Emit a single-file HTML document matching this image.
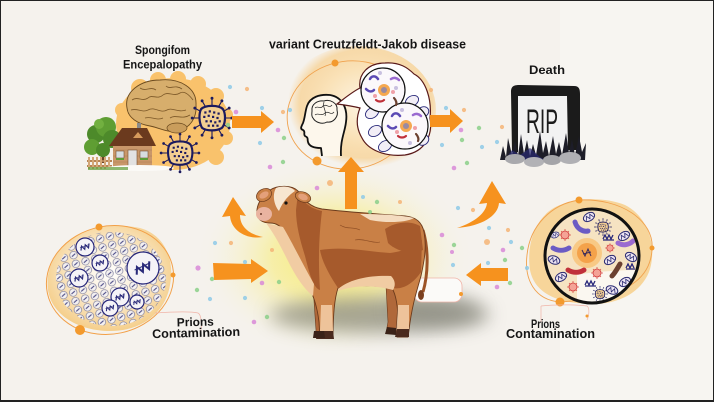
<!DOCTYPE html>
<html><head><meta charset="utf-8">
<style>
html,body{margin:0;padding:0;background:#f5f2ed;}
svg{display:block;}
text{font-family:"Liberation Sans",sans-serif;font-weight:bold;fill:#151515;}
</style></head><body>
<svg width="714" height="402" viewBox="0 0 714 402" xmlns="http://www.w3.org/2000/svg">
<defs>
 <radialGradient id="glow" cx="0.5" cy="0.5" r="0.5">
   <stop offset="0" stop-color="#f6ea72"/>
   <stop offset="0.45" stop-color="#f7ee9c" stop-opacity="0.85"/>
   <stop offset="1" stop-color="#f5f2ed" stop-opacity="0"/>
 </radialGradient>
 <radialGradient id="headglow" cx="0.55" cy="0.45" r="0.5">
   <stop offset="0" stop-color="#fdf4e4"/>
   <stop offset="0.55" stop-color="#fae2b8"/>
   <stop offset="0.85" stop-color="#f7d398" stop-opacity="0.8"/>
   <stop offset="1" stop-color="#f7d398" stop-opacity="0"/>
 </radialGradient>
 <radialGradient id="leftblob" cx="0.5" cy="0.45" r="0.55">
   <stop offset="0" stop-color="#ffffff"/>
   <stop offset="0.45" stop-color="#fbeed6"/>
   <stop offset="1" stop-color="#f5cf8c"/>
 </radialGradient>
 <filter id="blur8" x="-50%" y="-50%" width="200%" height="200%"><feGaussianBlur stdDeviation="9"/></filter>
 <filter id="blur1"><feGaussianBlur stdDeviation="0.7"/></filter>
 <pattern id="cells" width="10" height="9" patternUnits="userSpaceOnUse" patternTransform="rotate(-15)">
   <circle cx="5" cy="4.5" r="3.8" fill="#f4f1f1" stroke="#7a7a9a" stroke-width="0.7"/>
   <path d="M3,5.5 L7,3.5" stroke="#4a4a86" stroke-width="1"/>
 </pattern>
 <clipPath id="leftclip"><ellipse cx="111" cy="279" rx="55" ry="47"/></clipPath>
 <clipPath id="rclip"><circle cx="592" cy="256" r="46"/></clipPath>
 <g id="virus">
  <path d="M11,0L18,0M9.5,5.5L15.6,9M5.5,9.5L9,15.6M0,11L0,18M-5.5,9.5L-9,15.6M-9.5,5.5L-15.6,9M-11,0L-18,0M-9.5,-5.5L-15.6,-9M-5.5,-9.5L-9,-15.6M0,-11L0,-18M5.5,-9.5L9,-15.6M9.5,-5.5L15.6,-9" stroke="#1c1a5e" stroke-width="1"/>
  <g fill="#1c1a5e">
   <circle cx="18" cy="0" r="1.3"/><circle cx="15.6" cy="9" r="1.3"/><circle cx="9" cy="15.6" r="1.3"/><circle cx="0" cy="18" r="1.3"/><circle cx="-9" cy="15.6" r="1.3"/><circle cx="-15.6" cy="9" r="1.3"/><circle cx="-18" cy="0" r="1.3"/><circle cx="-15.6" cy="-9" r="1.3"/><circle cx="-9" cy="-15.6" r="1.3"/><circle cx="0" cy="-18" r="1.3"/><circle cx="9" cy="-15.6" r="1.3"/><circle cx="15.6" cy="-9" r="1.3"/>
  </g>
  <path d="M-10,-8 C-6,-12 6,-12 10,-8 C13,-3 12,6 9,9 C4,12 -5,12 -9,9 C-12,4 -12,-4 -10,-8 Z" fill="#f3cf92" stroke="#1c1a5e" stroke-width="2"/>
  <g fill="#1c1a5e">
   <rect x="-7" y="-6" width="2" height="2"/><rect x="-3" y="-7" width="2" height="2"/><rect x="1" y="-6" width="2" height="2"/><rect x="5" y="-5" width="2" height="2"/>
   <rect x="-8" y="-2" width="2" height="2"/><rect x="-4" y="-3" width="2" height="2"/><rect x="0" y="-2" width="2" height="2"/><rect x="4" y="-1" width="2" height="2"/>
   <rect x="-6" y="2" width="2" height="2"/><rect x="-2" y="2" width="2" height="2"/><rect x="2" y="3" width="2" height="2"/><rect x="6" y="2" width="2" height="2"/>
   <rect x="-4" y="6" width="2" height="2"/><rect x="0" y="6" width="2" height="2"/><rect x="4" y="6" width="2" height="2"/>
  </g>
 </g>
 <g id="mito">
  <ellipse cx="0" cy="0" rx="6" ry="4" fill="#ece4f2" stroke="#2a2a72" stroke-width="1"/>
  <path d="M-4,2 L-2,-2 L0,2 L2,-2 L4,2" fill="none" stroke="#2a2a72" stroke-width="0.8"/>
 </g>
 <g id="rv">
  <path d="M0,-6V6M-6,0H6M-4,-4L4,4M-4,4L4,-4" stroke="#d8504a" stroke-width="0.8"/>
  <circle r="4" fill="#f4a396" stroke="#d23a3a" stroke-width="0.8"/>
 </g>
 <g id="dna">
  <circle r="1" fill="none"/>
  <path d="M-5,2 L-3,-2 L-1,2 L1,-2 L3,2 L5,-2" fill="none" stroke="#2a2a7a" stroke-width="1.2"/>
  <path d="M-5,-1 L5,-1" stroke="#2a2a7a" stroke-width="0.6"/>
 </g>
</defs>

<rect x="0" y="0" width="714" height="402" fill="#f5f2ed"/>
<rect x="560" y="0" width="154" height="402" fill="#f8f6f3" opacity="0.6"/>

<!-- glow + shadow -->
<ellipse cx="335" cy="258" rx="140" ry="100" fill="url(#glow)"/>
<ellipse cx="380" cy="315" rx="110" ry="18" fill="#858579" opacity="0.7" filter="url(#blur8)"/>
<ellipse cx="435" cy="310" rx="45" ry="14" fill="#858579" opacity="0.55" filter="url(#blur8)"/>

<!-- ============ TOP LEFT GROUP ============ -->
<g>
 <ellipse cx="173" cy="124" rx="57" ry="46" fill="#f9c26c"/>
 <circle cx="140" cy="88" r="9" fill="#f9c26c"/><circle cx="158" cy="80" r="8" fill="#f9c26c"/>
 <circle cx="178" cy="79" r="8" fill="#f9c26c"/><circle cx="198" cy="84" r="8" fill="#f9c26c"/>
 <circle cx="216" cy="96" r="8" fill="#f9c26c"/><circle cx="226" cy="115" r="7" fill="#f9c26c"/>
 <circle cx="226" cy="138" r="7" fill="#f9c26c"/><circle cx="216" cy="157" r="8" fill="#f9c26c"/>
 <circle cx="122" cy="110" r="7" fill="#f9c26c"/>
 <!-- brain -->
 <path d="M127,108 C124,92 140,80 160,80 C180,78 197,88 196,105 C197,118 190,128 178,131 C168,133 160,128 150,126 C138,124 128,118 127,108 Z" fill="#d7ae6c" stroke="#6b4a1e" stroke-width="0.9"/>
 <ellipse cx="177" cy="128" rx="10" ry="5" fill="#c99d5c" stroke="#6b4a1e" stroke-width="0.7"/>
 <path d="M132,100 C138,96 142,102 148,98 C152,94 158,100 163,95 C168,91 174,97 180,93 C185,90 190,96 193,100 M131,110 C138,108 142,113 148,110 C155,106 160,114 167,110 C172,107 178,113 186,110 M140,88 C146,92 150,86 156,90 M166,86 C170,90 175,84 182,89 M145,118 C152,116 156,121 163,118 M170,118 C176,114 182,120 190,115" fill="none" stroke="#7a5626" stroke-width="0.8"/>
 <!-- tree -->
 <rect x="101" y="145" width="4" height="18" fill="#6b4526"/>
 <circle cx="96" cy="134" r="9" fill="#4d8a2a"/><circle cx="106" cy="127" r="10" fill="#5f9e33"/>
 <circle cx="112" cy="139" r="9" fill="#4d8a2a"/><circle cx="92" cy="147" r="8" fill="#5f9e33"/>
 <circle cx="103" cy="150" r="7" fill="#4d8a2a"/><circle cx="99" cy="124" r="5" fill="#72b040"/>
 <!-- fence -->
 <rect x="87" y="160" width="25" height="2" fill="#b78354"/><rect x="87" y="165" width="25" height="2" fill="#b78354"/>
 <g fill="#d3a676"><rect x="88" y="157" width="2" height="12"/><rect x="92" y="157" width="2" height="12"/><rect x="96" y="157" width="2" height="12"/><rect x="100" y="157" width="2" height="12"/><rect x="104" y="157" width="2" height="12"/><rect x="108" y="157" width="2" height="12"/></g>
 <!-- house -->
 <rect x="137" y="123" width="4" height="7" fill="#8a8a8a"/>
 <rect x="113" y="144" width="39" height="23" fill="#c9976a"/>
 <path d="M113,150 H152 M113,156 H152 M113,162 H152" stroke="#b07e54" stroke-width="0.5"/>
 <polygon points="109,146 122,128 147,128 156,146" fill="#6b3a1e"/>
 <polygon points="133,138 138,132 143,138" fill="#d79b5c"/>
 <rect x="116" y="151" width="8" height="7" fill="#d6dde0" stroke="#7a5030" stroke-width="0.6"/>
 <rect x="140" y="151" width="8" height="7" fill="#d6dde0" stroke="#7a5030" stroke-width="0.6"/>
 <rect x="128" y="150" width="9" height="16" fill="#e2e2e2" stroke="#7a5030" stroke-width="0.6"/>
 <rect x="116" y="158" width="8" height="2" fill="#5d9c36"/><rect x="140" y="158" width="8" height="2" fill="#5d9c36"/>
 <ellipse cx="140" cy="168" rx="34" ry="3" fill="#fbfaf7"/>
 <rect x="88" y="167" width="40" height="3" fill="#5c9a34" opacity="0.7"/>
 <use href="#virus" transform="translate(212,118) scale(1.1)"/>
 <use href="#virus" transform="translate(180,153) scale(1.05)"/>
</g>

<!-- ============ TOP CENTER GROUP ============ -->
<g>
 <ellipse cx="358" cy="110" rx="78" ry="64" fill="url(#headglow)"/>
 <ellipse cx="350" cy="115" rx="63" ry="54" fill="none" stroke="#f0a24e" stroke-width="0.9" transform="rotate(-8 350 115)"/>
 <circle cx="335" cy="63" r="3.5" fill="#f39a2e"/>
 <circle cx="317" cy="161" r="4.5" fill="#f39a2e"/>
 <!-- head -->
 <path d="M322,156 L321,148 C314,148 309,146 308,142 C307,139 309,138 305,136 C303,134 306,132 303,130 C300,129 301,127 303,123 C305,118 305,112 307,106 C310,97 320,94 330,95 C342,97 348,108 346,122 C345,132 340,140 341,156" fill="#fdf7ec" stroke="#111" stroke-width="1.8" stroke-linejoin="round"/>
 <path d="M312,111 C311,104 318,100 324,101 C330,99 338,103 337,110 C339,117 333,123 327,122 C322,125 315,122 313,118 C311,116 312,113 312,111 Z" fill="#fdf7ec" stroke="#222" stroke-width="1"/>
 <path d="M315,108 C318,105 320,110 323,106 C326,103 329,109 332,105 M315,115 C318,112 321,117 325,113 C328,110 331,116 334,112 M324,102 C322,108 327,110 325,116" fill="none" stroke="#222" stroke-width="0.7"/>
 <!-- bubble -->
 <path d="M337,104 C345,98 352,92 360,88 C358,74 368,63 385,63 C400,62 408,68 414,74 C426,80 432,100 430,118 C433,135 425,152 405,155 C385,157 368,150 362,138 C356,128 356,118 360,108 C352,106 345,105 337,104 Z" fill="#ffffff" stroke="#5a1a1a" stroke-width="1.2"/>
 <g fill="#f2eef6" stroke="#2a2a7a" stroke-width="0.9">
  <ellipse cx="372" cy="113" rx="7" ry="5" transform="rotate(-30 372 113)"/>
  <ellipse cx="375" cy="131" rx="7" ry="5" transform="rotate(-30 375 131)"/>
  <ellipse cx="385" cy="146" rx="7" ry="5" transform="rotate(-30 385 146)"/>
  <ellipse cx="412" cy="101" rx="7" ry="5" transform="rotate(-30 412 101)"/>
  <ellipse cx="423" cy="112" rx="6" ry="5" transform="rotate(-30 423 112)"/>
  <ellipse cx="423" cy="140" rx="6" ry="5" transform="rotate(-30 423 140)"/>
 </g>
 <circle cx="383" cy="90" r="22" fill="#fbf8fb" stroke="#111" stroke-width="1.2"/>
 <circle cx="405" cy="126" r="23" fill="#fbf8fb" stroke="#111" stroke-width="1.2"/>
 <g>
  <circle cx="384" cy="90" r="6" fill="#f5a850"/><circle cx="384" cy="90" r="3" fill="#9a8aa0"/>
  <path d="M370,79 C372,75 376,76 378,79" stroke="#5b4ab4" stroke-width="2.5" fill="none" stroke-linecap="round"/>
  <path d="M366,89 C369,92 372,92 374,90" stroke="#5b4ab4" stroke-width="2.5" fill="none" stroke-linecap="round"/>
  <path d="M391,79 C394,77 397,78 399,80" stroke="#9a6ad0" stroke-width="2.5" fill="none" stroke-linecap="round"/>
  <path d="M376,100 C378,102 382,102 384,100" stroke="#c0303a" stroke-width="2.2" fill="none" stroke-linecap="round"/>
  <path d="M394,98 C396,100 397,103 396,105" stroke="#6b4030" stroke-width="2.2" fill="none" stroke-linecap="round"/>
  <circle cx="375" cy="96" r="2" fill="#f0a0a8"/><circle cx="393" cy="92" r="2" fill="#f0a0a8"/><circle cx="380" cy="73" r="2" fill="#c8c0e0"/><circle cx="396" cy="88" r="2" fill="#c8c0e0"/>
  <circle cx="406" cy="126" r="6" fill="#f5a850"/><circle cx="406" cy="126" r="3" fill="#9a8aa0"/>
  <path d="M392,116 C394,112 398,113 400,116" stroke="#5b4ab4" stroke-width="2.5" fill="none" stroke-linecap="round"/>
  <path d="M388,126 C391,129 394,129 396,127" stroke="#5b4ab4" stroke-width="2.5" fill="none" stroke-linecap="round"/>
  <path d="M413,115 C416,113 419,114 421,116" stroke="#9a6ad0" stroke-width="2.5" fill="none" stroke-linecap="round"/>
  <path d="M398,136 C400,138 404,138 406,136" stroke="#c0303a" stroke-width="2.2" fill="none" stroke-linecap="round"/>
  <path d="M416,134 C418,136 419,139 418,141" stroke="#6b4030" stroke-width="2.2" fill="none" stroke-linecap="round"/>
  <circle cx="397" cy="132" r="2" fill="#f0a0a8"/><circle cx="415" cy="128" r="2" fill="#f0a0a8"/><circle cx="402" cy="110" r="2" fill="#c8c0e0"/><circle cx="410" cy="143" r="2" fill="#c8c0e0"/>
 </g>
</g>

<!-- ============ TOMBSTONE ============ -->
<g>
 <rect x="517" y="94" width="51" height="57" fill="#f2f2f2"/>
 <path d="M512,152 L511,92 C511,86 514,85 520,85 L574,86 C579,86 580,89 580,94 L580,150 L568,150 L567,96 L518,96 L518,152 Z" fill="#1b1b1b"/>
 <text x="526" y="133" font-size="34" textLength="32" lengthAdjust="spacingAndGlyphs" style="font-weight:normal;fill:#1b1b1b">RIP</text>
 <polygon points="500,160 503,146 506,157 508,138 512,155 515,141 518,156 521,134 524,154 527,140 530,156 533,144 536,155 540,131 543,153 546,141 549,156 553,136 556,154 559,142 562,155 566,133 569,153 572,139 575,155 579,136 582,152 586,143 585,160" fill="#1d1d28"/>
 <polygon points="505,160 512,150 520,155 530,148 540,157 545,160" fill="#2a2a70" opacity="0.7"/>
 <ellipse cx="515" cy="159" rx="10" ry="5" fill="#a9a9ad"/>
 <ellipse cx="534" cy="162" rx="10" ry="5" fill="#b2b2b6"/>
 <ellipse cx="552" cy="160" rx="9" ry="5" fill="#a4a4a8"/>
 <ellipse cx="570" cy="158" rx="11" ry="6" fill="#b0b0b4"/>
</g>

<!-- ============ LEFT CIRCLE ============ -->
<g>
 <path d="M60,250 C75,228 110,222 140,228 C165,235 175,260 170,285 C166,310 145,331 110,331 C80,331 52,316 48,290 C46,275 50,262 60,250 Z" fill="url(#leftblob)"/>
 <rect x="50" y="225" width="125" height="110" fill="url(#cells)" clip-path="url(#leftclip)"/>
 <g fill="#f5f3f7" stroke="#26267a" stroke-width="1.2">
  <circle cx="85" cy="247" r="9"/><circle cx="100" cy="263" r="8"/><circle cx="79" cy="278" r="9"/>
  <circle cx="143" cy="268" r="16"/><circle cx="120" cy="297" r="9"/><circle cx="137" cy="302" r="7"/><circle cx="110" cy="308" r="8"/>
 </g>
 <use href="#dna" transform="translate(85,247) rotate(-20)"/>
 <use href="#dna" transform="translate(100,263) rotate(-20) scale(0.9)"/>
 <use href="#dna" transform="translate(79,278) rotate(-20)"/>
 <use href="#dna" transform="translate(143,268) rotate(-25) scale(1.7)"/>
 <use href="#dna" transform="translate(120,297) rotate(-20)"/>
 <use href="#dna" transform="translate(137,302) rotate(-20) scale(0.8)"/>
 <use href="#dna" transform="translate(110,308) rotate(-20) scale(0.9)"/>
 <ellipse cx="110" cy="280" rx="64" ry="54" fill="none" stroke="#f2a048" stroke-width="1" transform="rotate(-12 110 280)"/>
 <circle cx="99" cy="227" r="3.5" fill="#f39a2e"/>
 <circle cx="80" cy="330" r="5" fill="#f39a2e"/>
 <circle cx="173" cy="275" r="2.5" fill="#f39a2e"/>
 <path d="M155,313 C170,312 190,311 198,313 C202,315 202,328 200,334" fill="none" stroke="#f0b4a8" stroke-width="0.7"/>
</g>

<!-- ============ RIGHT CIRCLE ============ -->
<g>
 <path d="M545,215 C560,198 600,195 625,205 C645,215 656,240 651,265 C646,290 620,305 590,304 C560,303 535,295 530,270 C527,250 532,228 545,215 Z" fill="#f7d59a"/>
 <path d="M579,200 C620,198 655,220 652,250 C650,280 625,298 560,302 C535,300 524,280 527,255 C530,225 552,204 579,200" fill="none" stroke="#f0a24e" stroke-width="0.9"/>
 <circle cx="592" cy="256" r="47" fill="#f6e3c2"/>
 <path d="M577,275 C590,272 620,270 640,270 L640,305 L577,305 Z" fill="#fbf7f0" clip-path="url(#rclip)"/>
 <circle cx="587" cy="253" r="15" fill="#f8c985"/>
 <circle cx="587" cy="253" r="10" fill="#f4a24a"/>
 <path d="M582,250 L585,256 L588,249 L591,256 M583,254 L591,252" stroke="#3a2a5a" stroke-width="1" fill="none"/>
 <path d="M575,222 C577,229 583,232 588,231" stroke="#6b5bc4" stroke-width="5" fill="none" stroke-linecap="round"/>
 <path d="M553,248 C558,251 564,251 569,248" stroke="#6b5bc4" stroke-width="5" fill="none" stroke-linecap="round"/>
 <path d="M618,243 C623,246 629,245 633,241" stroke="#9b6ad0" stroke-width="5" fill="none" stroke-linecap="round"/>
 <path d="M568,270 C573,273 579,273 584,270" stroke="#c0303a" stroke-width="5" fill="none" stroke-linecap="round"/>
 <path d="M620,264 C617,269 615,273 612,276" stroke="#6b4030" stroke-width="5" fill="none" stroke-linecap="round"/>
 <use href="#mito" transform="translate(589,217) rotate(-30)"/>
 <use href="#mito" transform="translate(624,236) rotate(-30)"/>
 <use href="#mito" transform="translate(631,257) rotate(30)"/>
 <use href="#mito" transform="translate(554,260) rotate(20)"/>
 <use href="#mito" transform="translate(610,260) rotate(-30)"/>
 <use href="#mito" transform="translate(561,277) rotate(-30)"/>
 <use href="#mito" transform="translate(625,282) rotate(-30)"/>
 <use href="#mito" transform="translate(612,290) rotate(20)"/>
 <use href="#mito" transform="translate(555,235) rotate(-20) scale(0.7)"/>
 <use href="#rv" transform="translate(565,235)"/>
 <use href="#rv" transform="translate(610,248) scale(0.8)"/>
 <use href="#rv" transform="translate(597,273)"/>
 <use href="#rv" transform="translate(573,287)"/>
 <use href="#virus" transform="translate(603,227) scale(0.45)"/>
 <use href="#virus" transform="translate(600,294) scale(0.4)"/>
 <g stroke="#26267a" stroke-width="1.3" fill="none">
  <path d="M603,239 L605,235 L607,239 L609,235 L611,239 L613,235 M603,240 H614"/>
  <path d="M626,268 L628,264 L630,268 L632,264 L634,268 M626,269 H635"/>
  <path d="M585,285 L587,281 L589,285 L591,281 L593,285 L595,281 M585,286 H596"/>
 </g>
 <circle cx="592" cy="256" r="47" fill="none" stroke="#111" stroke-width="3"/>
 <circle cx="579" cy="200" r="3.5" fill="#f39a2e"/>
 <circle cx="652" cy="248" r="2.5" fill="#f39a2e"/>
 <circle cx="560" cy="302" r="4.5" fill="#f39a2e"/>
 <path d="M541,306 C560,304 580,305 587,306 C590,308 589,316 587,320 M541,306 L541,322" fill="none" stroke="#f0b4a8" stroke-width="0.7"/>
 <circle cx="587" cy="316" r="1.5" fill="#f39a2e"/>
</g>

<!-- label box behind cow tail -->
<rect x="414" y="278" width="48" height="24" rx="8" fill="#fbfaf8" stroke="#f0b4a8" stroke-width="0.8"/>
<circle cx="461" cy="294" r="2" fill="#f39a2e"/>

<!-- ============ COW ============ -->
<g stroke-linejoin="round">
 <path d="M313,286 L316,330 L315,337 L325,337 L325,300 L322,286 Z" fill="#b0683a" stroke="#6b3a1c" stroke-width="0.6"/>
 <path d="M386,286 L388,322 L386,333 L396,334 L398,300 L396,286 Z" fill="#b0683a" stroke="#6b3a1c" stroke-width="0.6"/>
 <path d="M423,230 C429,250 428,275 423,292" fill="none" stroke="#9c5428" stroke-width="3"/>
 <ellipse cx="421" cy="295" rx="3" ry="5" fill="#7a3f1e"/>
 <path d="M257,214 C256,206 261,196 270,190 C278,185 292,185 298,191 C304,200 310,207 322,209 C345,212 380,214 405,216 C416,217 422,222 424,232 C427,248 424,262 421,276 C417,290 412,305 409,330 L408,337 L397,337 L398,322 C398,305 396,295 392,288 C375,285 355,285 338,288 C334,300 333,318 333,337 L320,337 L319,322 C317,305 313,295 308,285 C299,270 291,250 284,232 C281,226 276,223 270,223 C263,223 258,220 257,214 Z" fill="#c98046" stroke="#6b3a1c" stroke-width="0.9"/>
 <path d="M298,193 C305,205 313,209 322,211 C319,235 318,260 320,290 C313,288 309,272 305,256 C300,240 296,225 296,210 Z" fill="#a65a2c"/>
 <path d="M320,250 C345,246 370,252 390,253 C405,251 415,246 422,240 L421,272 C413,284 402,290 393,288 C375,284 352,285 338,288 C330,276 322,262 320,250 Z" fill="#a65a2c"/>
 <path d="M385,229 C395,222 410,220 420,226 L423,250 C410,256 395,250 388,243 Z" fill="#a65a2c"/>
 <path d="M266,223 L283,227 C292,242 302,263 314,284 L313,296 C303,288 295,275 288,261 C281,247 275,235 266,223 Z" fill="#f1cca3"/>
 <path d="M338,289 C350,279 370,275 391,276 C395,280 396,285 393,290 C375,285 355,285 338,291 Z" fill="#f1cca3"/>
 <path d="M360,214 C380,214 400,215 414,218 C405,223 385,223 370,220 Z" fill="#f4dcc0"/>
 <path d="M321,305 L332,305 L333,331 L320,331 Z" fill="#eec39a"/>
 <path d="M398,305 L409,305 L409,329 L397,329 Z" fill="#eec39a"/>
 <path d="M318,331 L333,331 L334,339 L316,339 Z" fill="#4a2a1e"/>
 <path d="M314,331 L324,331 L325,338 L313,338 Z" fill="#3a2218"/>
 <path d="M397,329 L409,329 L409,337 L395,337 Z" fill="#4a2a1e"/>
 <path d="M387,327 L396,328 L396,335 L385,334 Z" fill="#3a2218"/>
 <path d="M276,188 C284,185 292,187 295,191 C289,195 283,201 279,211 C274,205 272,195 276,188 Z" fill="#f7e6d0"/>
 <ellipse cx="264" cy="214" rx="8" ry="7" fill="#e9b3a0"/>
 <circle cx="261" cy="214" r="1" fill="#6b3a2a"/>
 <ellipse cx="264" cy="195" rx="8" ry="6" fill="#c98046" stroke="#6b3a1c" stroke-width="0.7" transform="rotate(-30 264 195)"/>
 <ellipse cx="264" cy="195" rx="5" ry="3" fill="#e4a07a" transform="rotate(-30 264 195)"/>
 <ellipse cx="303" cy="197" rx="8" ry="5" fill="#c98046" stroke="#6b3a1c" stroke-width="0.7" transform="rotate(20 303 197)"/>
 <ellipse cx="303" cy="197" rx="5" ry="3" fill="#e4a07a" transform="rotate(20 303 197)"/>
 <circle cx="286" cy="203" r="1.6" fill="#111"/>
 <path d="M355,240 C365,238 372,244 380,242 M340,225 C348,230 352,226 360,230" fill="none" stroke="#8a4a22" stroke-width="0.6"/>
</g>

<!-- ============ ARROWS ============ -->
<g fill="#f6921e">
 <polygon points="232,116 261,116 261,111 274,122 261,133 261,128 232,128"/>
 <polygon points="430,115 450,115 450,109 463,121 450,133 450,127 430,127"/>
 <polygon points="345,209 345,172 338,172 351,157 364,172 357,172 357,209"/>
 <polygon points="213,263 251,264 251,259 268,271 251,283 251,279 214,280"/>
 <polygon points="508,268 481,268 481,263 466,275 481,286 481,281 508,281"/>
 <path d="M233,197 L246,216 L240,215 C240,226 248,234 263,237 C246,240 231,230 230,216 L222,217 Z"/>
 <path d="M492,181 L506,204 L499,203 C498,216 482,226 457,228 C475,222 486,213 487,203 L479,204 Z"/>
</g>

<!-- ============ SCATTER DOTS ============ -->
<g opacity="0.85">
 <g fill="#d98ad8">
  <circle cx="236" cy="112" r="2.3"/><circle cx="278" cy="130" r="2.3"/><circle cx="270" cy="167" r="2.3"/><circle cx="461" cy="130" r="2.3"/><circle cx="454" cy="168" r="2.3"/><circle cx="198" cy="268" r="2.6"/><circle cx="254" cy="322" r="2.3"/><circle cx="262" cy="283" r="2.3"/><circle cx="503" cy="250" r="2.3"/><circle cx="497" cy="287" r="2.3"/><circle cx="442" cy="235" r="2.3"/><circle cx="317" cy="188" r="2.3"/><circle cx="452" cy="252" r="2"/>
 </g>
 <g fill="#8cd08a">
  <circle cx="228" cy="125" r="2.2"/><circle cx="284" cy="138" r="2.2"/><circle cx="283" cy="162" r="2.2"/><circle cx="479" cy="128" r="2.2"/><circle cx="462" cy="140" r="2.2"/><circle cx="467" cy="163" r="2.2"/><circle cx="212" cy="279" r="2.2"/><circle cx="197" cy="290" r="2.2"/><circle cx="267" cy="317" r="2.2"/><circle cx="279" cy="282" r="2.2"/><circle cx="522" cy="248" r="2.2"/><circle cx="505" cy="260" r="2.2"/><circle cx="510" cy="283" r="2.2"/><circle cx="454" cy="245" r="2.2"/><circle cx="377" cy="202" r="2.2"/><circle cx="370" cy="212" r="2"/>
 </g>
 <g fill="#8fcbe8">
  <circle cx="230" cy="87" r="2.1"/><circle cx="262" cy="108" r="2.1"/><circle cx="260" cy="143" r="2.1"/><circle cx="290" cy="110" r="2.1"/><circle cx="446" cy="108" r="2.1"/><circle cx="482" cy="147" r="2.1"/><circle cx="442" cy="145" r="2.1"/><circle cx="497" cy="142" r="2.1"/><circle cx="215" cy="243" r="2.1"/><circle cx="210" cy="299" r="2.1"/><circle cx="245" cy="298" r="2.1"/><circle cx="245" cy="262" r="2.1"/><circle cx="458" cy="208" r="2.1"/><circle cx="489" cy="228" r="2.1"/><circle cx="511" cy="242" r="2.1"/><circle cx="453" cy="265" r="2.1"/><circle cx="488" cy="263" r="2.1"/><circle cx="527" cy="268" r="2.1"/><circle cx="363" cy="197" r="2"/>
 </g>
 <g fill="#f5b577">
  <circle cx="247" cy="89" r="2.1"/><circle cx="283" cy="112" r="2.1"/><circle cx="431" cy="90" r="2.1"/><circle cx="464" cy="110" r="2.1"/><circle cx="502" cy="127" r="2.1"/><circle cx="231" cy="243" r="2.1"/><circle cx="272" cy="250" r="2"/><circle cx="473" cy="210" r="2.1"/><circle cx="508" cy="230" r="2.1"/><circle cx="400" cy="202" r="2"/><circle cx="330" cy="183" r="3"/><circle cx="487" cy="242" r="3"/>
 </g>
</g>

<!-- ============ TEXT ============ -->
<text x="135" y="54" font-size="12" textLength="55" lengthAdjust="spacingAndGlyphs">Spongifom</text>
<text x="123" y="68.5" font-size="12" textLength="79" lengthAdjust="spacingAndGlyphs">Encepalopathy</text>
<text x="269" y="48.5" font-size="12.5" textLength="197" lengthAdjust="spacingAndGlyphs">variant Creutzfeldt-Jakob disease</text>
<text x="529" y="74" font-size="12" textLength="36" lengthAdjust="spacingAndGlyphs">Death</text>
<g transform="rotate(-1.5 196 330)">
 <text x="177" y="326" font-size="12" textLength="37" lengthAdjust="spacingAndGlyphs">Prions</text>
 <text x="152" y="337" font-size="12.5" textLength="88" lengthAdjust="spacingAndGlyphs">Contamination</text>
</g>
<text x="531" y="328" font-size="12" textLength="29" lengthAdjust="spacingAndGlyphs">Prions</text>
<text x="506" y="338" font-size="12.5" textLength="89" lengthAdjust="spacingAndGlyphs">Contamination</text>

<!-- border -->
<rect x="0" y="0" width="714" height="1" fill="#222"/>
<rect x="0" y="0" width="1" height="402" fill="#222"/>
<rect x="713" y="0" width="1" height="402" fill="#222"/>
<rect x="0" y="400" width="714" height="2" fill="#222"/>
</svg>
</body></html>
